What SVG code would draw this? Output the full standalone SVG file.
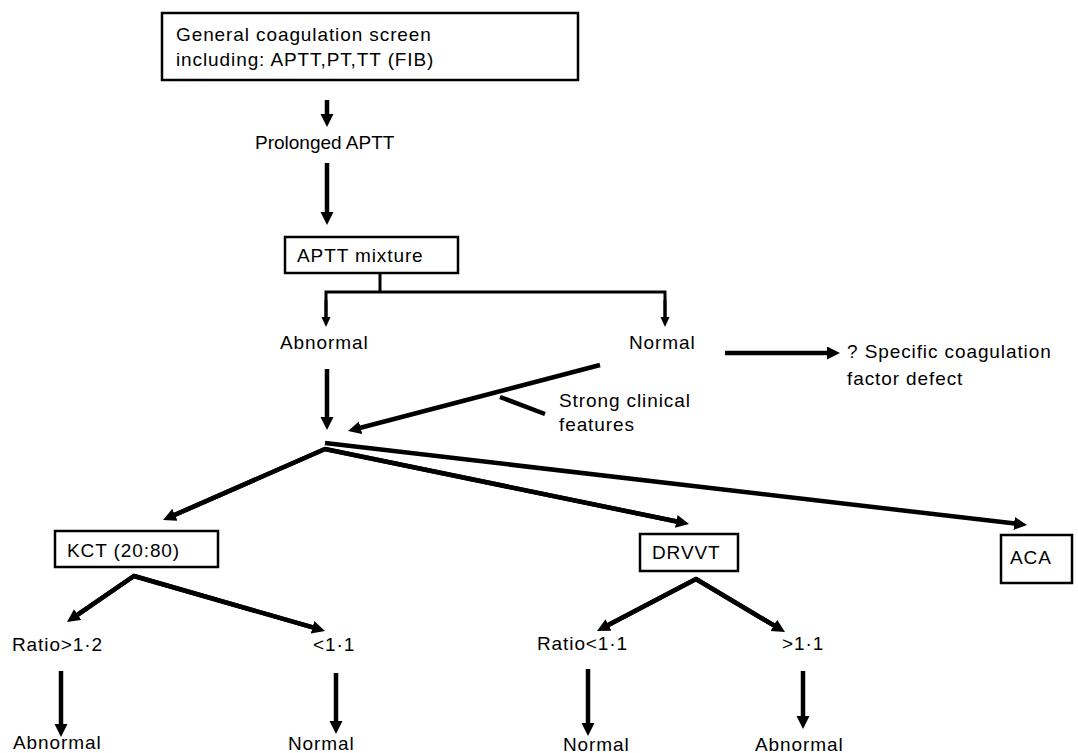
<svg xmlns="http://www.w3.org/2000/svg" width="1078" height="753" viewBox="0 0 1078 753">
<style>
  text { font-family: "Liberation Sans", Arial, sans-serif; font-size: 19px; fill: #000; letter-spacing: 0.9px; }
  .box { fill: #fff; stroke: #000; stroke-width: 2.5; }
  .ln { fill: none; stroke: #000; stroke-width: 4.5; }
  .thin { fill: none; stroke: #000; stroke-width: 3; }
  .arr { marker-end: url(#ah); }
  .arrs { marker-end: url(#ahs); }
</style>
<defs>
  <marker id="ah" markerUnits="userSpaceOnUse" markerWidth="14" markerHeight="14" refX="3" refY="6.5" orient="auto">
    <path d="M0,0 L13,6.5 L0,13 Z" fill="#000"/>
  </marker>
  <marker id="ahs" markerUnits="userSpaceOnUse" markerWidth="12" markerHeight="12" refX="3" refY="4.5" orient="auto">
    <path d="M0,0 L10,4.5 L0,9 Z" fill="#000"/>
  </marker>
</defs>
<rect width="1078" height="753" fill="#fff"/>

<g id="connectors">
  <line class="ln arr" x1="327" y1="100" x2="327" y2="117"/>
  <line class="ln arr" x1="327" y1="163" x2="327" y2="215"/>
  <line class="thin" x1="380" y1="273" x2="380" y2="292"/>
  <polyline class="thin" points="326,317 326,292 665,292 665,317"/>
  <line class="thin arrs" x1="326" y1="300" x2="326" y2="320"/>
  <line class="thin arrs" x1="665" y1="300" x2="665" y2="320"/>
  <line class="ln arr" x1="327" y1="369" x2="327" y2="420"/>
  <line class="ln arr" x1="600" y1="365" x2="357.7" y2="428.5"/>
  <line class="ln" x1="500" y1="397" x2="545" y2="414"/>
  <line class="ln arr" x1="725" y1="353" x2="830" y2="353"/>
  <line class="ln arr" x1="325" y1="443" x2="1017.1" y2="523.8"/>
  <polyline class="ln" points="172.2,516 325,449 679.2,522"/>
  <line class="ln arr" x1="325" y1="449" x2="172.2" y2="516"/>
  <line class="ln arr" x1="325" y1="449" x2="679.2" y2="522"/>
  <polyline class="ln" points="75.2,616.3 134,576 315.4,628.2"/>
  <line class="ln arr" x1="134" y1="576" x2="75.2" y2="616.3"/>
  <line class="ln arr" x1="134" y1="576" x2="315.4" y2="628.2"/>
  <line class="ln arr" x1="61" y1="671" x2="61" y2="727"/>
  <line class="ln arr" x1="336" y1="673" x2="336" y2="724"/>
  <polyline class="ln" points="605.9,626.3 696,579 776.4,626.9"/>
  <line class="ln arr" x1="696" y1="579" x2="605.9" y2="626.3"/>
  <line class="ln arr" x1="696" y1="579" x2="776.4" y2="626.9"/>
  <line class="ln arr" x1="588" y1="669" x2="588" y2="726"/>
  <line class="ln arr" x1="803" y1="671" x2="803" y2="719"/>
</g>

<g id="screen">
  <rect class="box" x="162" y="13" width="416" height="67"/>
  <text x="176" y="41">General coagulation screen</text>
  <text x="176" y="66">including: APTT,PT,TT (FIB)</text>
</g>
<g id="prolonged">
  <text x="255" y="149" style="letter-spacing:0">Prolonged APTT</text>
</g>
<g id="mixture">
  <rect class="box" x="285" y="237" width="173" height="36"/>
  <text x="297" y="262">APTT mixture</text>
</g>
<g id="abnormal1"><text x="280" y="349">Abnormal</text></g>
<g id="normal1"><text x="629" y="349">Normal</text></g>
<g id="strong">
  <text x="559" y="407">Strong clinical</text>
  <text x="559" y="431">features</text>
</g>
<g id="specific">
  <text x="847" y="358">? Specific coagulation</text>
  <text x="847" y="385">factor defect</text>
</g>
<g id="kct">
  <rect class="box" x="55" y="531" width="163" height="36"/>
  <text x="67" y="557">KCT (20:80)</text>
</g>
<g id="drvvt">
  <rect class="box" x="640" y="534" width="98" height="37"/>
  <text x="652" y="559">DRVVT</text>
</g>
<g id="aca">
  <rect class="box" x="1001" y="535" width="71" height="48"/>
  <text x="1010" y="564">ACA</text>
</g>
<g id="kct-ratio"><text x="12" y="651">Ratio&gt;1·2</text></g>
<g id="kct-lt"><text x="313" y="651">&lt;1·1</text></g>
<g id="kct-abn"><text x="13" y="749">Abnormal</text></g>
<g id="kct-norm"><text x="288" y="750">Normal</text></g>
<g id="dr-ratio"><text x="537" y="650">Ratio&lt;1·1</text></g>
<g id="dr-gt"><text x="782" y="650">&gt;1·1</text></g>
<g id="dr-norm"><text x="563" y="751">Normal</text></g>
<g id="dr-abn"><text x="755" y="751">Abnormal</text></g>
</svg>
